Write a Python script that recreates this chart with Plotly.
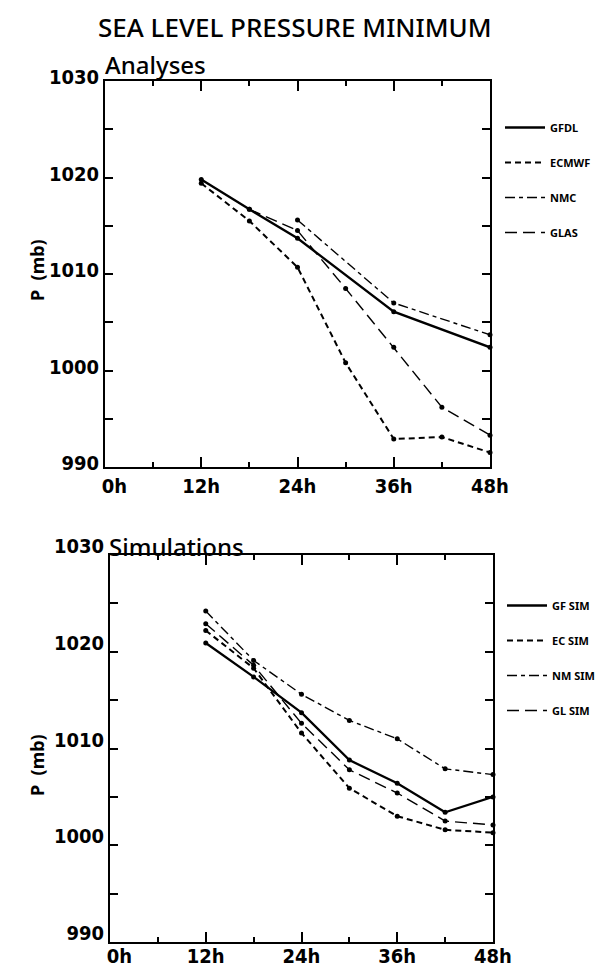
import plotly.graph_objects as go

# ---------------- data ----------------
x_tickvals = [0, 12, 24, 36, 48]
x_ticktext = ["\u00a0\u00a0\u00a00h", "12h", "24h", "36h", "48h"]
y_tickvals = [990, 1000, 1010, 1020, 1030]
y_ticktext = ["990", "1000", "1010", "1020", "1030"]

# Analyses
t_gfdl = [12, 18, 24, 36, 48]
p_gfdl = [1019.8, 1016.7, 1013.7, 1006.1, 1002.4]
t_ecmwf = [12, 18, 24, 30, 36, 42, 48]
p_ecmwf = [1019.4, 1015.5, 1010.7, 1000.8, 992.9, 993.1, 991.5]
t_nmc = [24, 36, 48]
p_nmc = [1015.6, 1007.0, 1003.7]
t_glas = [18, 24, 30, 36, 42, 48]
p_glas = [1016.7, 1014.5, 1008.5, 1002.4, 996.2, 993.3]

# Simulations
t_sim = [12, 18, 24, 30, 36, 42, 48]
p_gf_sim = [1020.9, 1017.4, 1013.7, 1008.8, 1006.4, 1003.4, 1005.0]
p_ec_sim = [1022.2, 1018.3, 1011.6, 1005.9, 1003.0, 1001.6, 1001.3]
p_nm_sim = [1024.2, 1019.1, 1015.6, 1012.9, 1011.0, 1007.9, 1007.3]
p_gl_sim = [1022.9, 1018.6, 1012.6, 1007.8, 1005.4, 1002.5, 1002.1]

# ---------------- styles ----------------
W, H = 612, 971
OFF = 8  # page body margin
TITLE_FONT = "Noto Sans, DejaVu Sans, sans-serif"
TICK_FONT = "DejaVu Sans Condensed, Liberation Sans Narrow, sans-serif"

styles = {
    "solid": dict(dash="solid", width=2.3),
    "ec": dict(dash="6px,4px", width=2.0),
    "nm": dict(dash="10px,4px,4px,4px", width=1.4),
    "gl": dict(dash="12px,6px", width=1.4),
}

fig = go.Figure()

def add_series(t, p, style, xa, ya, name, legend):
    fig.add_trace(go.Scatter(
        x=t, y=p, mode="lines+markers", xaxis=xa, yaxis=ya,
        line=dict(color="black", **styles[style]),
        marker=dict(color="black", size=5),
        cliponaxis=False, showlegend=False, hoverinfo="skip"))
    # legend entry (line only)
    fig.add_trace(go.Scatter(
        x=[None], y=[None], mode="lines", xaxis=xa, yaxis=ya, name=name,
        line=dict(color="black", **styles[style]),
        legend=legend, legendgroup=name, showlegend=True))

add_series(t_gfdl, p_gfdl, "solid", "x", "y", "GFDL", "legend")
add_series(t_ecmwf, p_ecmwf, "ec", "x", "y", "ECMWF", "legend")
add_series(t_nmc, p_nmc, "nm", "x", "y", "NMC", "legend")
add_series(t_glas, p_glas, "gl", "x", "y", "GLAS", "legend")

add_series(t_sim, p_gf_sim, "solid", "x2", "y2", "GF SIM", "legend2")
add_series(t_sim, p_ec_sim, "ec", "x2", "y2", "EC SIM", "legend2")
add_series(t_sim, p_nm_sim, "nm", "x2", "y2", "NM SIM", "legend2")
add_series(t_sim, p_gl_sim, "gl", "x2", "y2", "GL SIM", "legend2")

def xaxis(domain, anchor, standoff):
    return dict(domain=domain, anchor=anchor, range=[0, 48], automargin=False,
                tickvals=x_tickvals, ticktext=x_ticktext,
                ticks="inside", ticklen=10, tickwidth=1.8, tickcolor="black",
                minor=dict(dtick=6, ticks="inside", ticklen=5, tickwidth=1.5, tickcolor="black"),
                showline=True, linecolor="black", linewidth=2, mirror="ticks",
                showgrid=False, zeroline=False, ticklabelstandoff=standoff,
                tickfont=dict(family=TICK_FONT, size=20, color="black", weight="bold"))

def yaxis(domain, anchor, shift):
    return dict(domain=domain, anchor=anchor, range=[990, 1030], automargin=False,
                tickvals=y_tickvals, ticktext=y_ticktext,
                ticks="inside", ticklen=8, tickwidth=1.5, tickcolor="black",
                minor=dict(dtick=5, ticks="inside", ticklen=8, tickwidth=1.5, tickcolor="black"),
                showline=True, linecolor="black", linewidth=2, mirror="ticks",
                showgrid=False, zeroline=False, ticklabelshift=shift,
                tickfont=dict(family=TICK_FONT, size=20, color="black", weight="bold"))

def px_x(v):
    return (v - OFF) / W

def px_y(v):
    return 1 - (v - OFF) / H

legend_common = dict(
    xanchor="left", yanchor="top", bgcolor="rgba(0,0,0,0)",
    font=dict(family=TITLE_FONT, size=11, color="black", weight="bold"),
    tracegroupgap=16, itemwidth=40, borderwidth=0)

fig.update_layout(
    template="none",
    width=W, height=H,
    margin=dict(l=0, r=0, t=0, b=0, autoexpand=False),
    paper_bgcolor="white", plot_bgcolor="white",
    xaxis=xaxis([px_x(105), px_x(490)], "y", 0),
    yaxis=yaxis([px_y(467), px_y(81)], "x", -4),
    xaxis2=xaxis([px_x(110), px_x(493)], "y2", -5),
    yaxis2=yaxis([px_y(942), px_y(555)], "x2", -9),
    legend=dict(x=px_x(500), y=px_y(113), **legend_common),
    legend2=dict(x=px_x(502), y=px_y(591), **legend_common),
    showlegend=True,
    annotations=[
        dict(text="SEA LEVEL PRESSURE MINIMUM", x=px_x(295), y=px_y(27),
             xref="paper", yref="paper", showarrow=False,
             xanchor="center", yanchor="middle",
             font=dict(family=TITLE_FONT, size=26, color="black", weight=500)),
        dict(text="Analyses", x=px_x(103), y=px_y(65),
             xref="paper", yref="paper", showarrow=False,
             xanchor="left", yanchor="middle",
             font=dict(family=TITLE_FONT, size=24, color="black", weight=500)),
        dict(text="Simulations", x=px_x(107), y=px_y(546),
             xref="paper", yref="paper", showarrow=False,
             xanchor="left", yanchor="middle",
             font=dict(family=TITLE_FONT, size=24, color="black", weight=500)),
        dict(text="P  (mb)", x=px_x(37), y=px_y(270), textangle=-90,
             xref="paper", yref="paper", showarrow=False,
             xanchor="center", yanchor="middle",
             font=dict(family=TITLE_FONT, size=18, color="black", weight="bold")),
        dict(text="P  (mb)", x=px_x(37), y=px_y(765), textangle=-90,
             xref="paper", yref="paper", showarrow=False,
             xanchor="center", yanchor="middle",
             font=dict(family=TITLE_FONT, size=18, color="black", weight="bold")),
    ],
)

fig.write_html("out.html")
